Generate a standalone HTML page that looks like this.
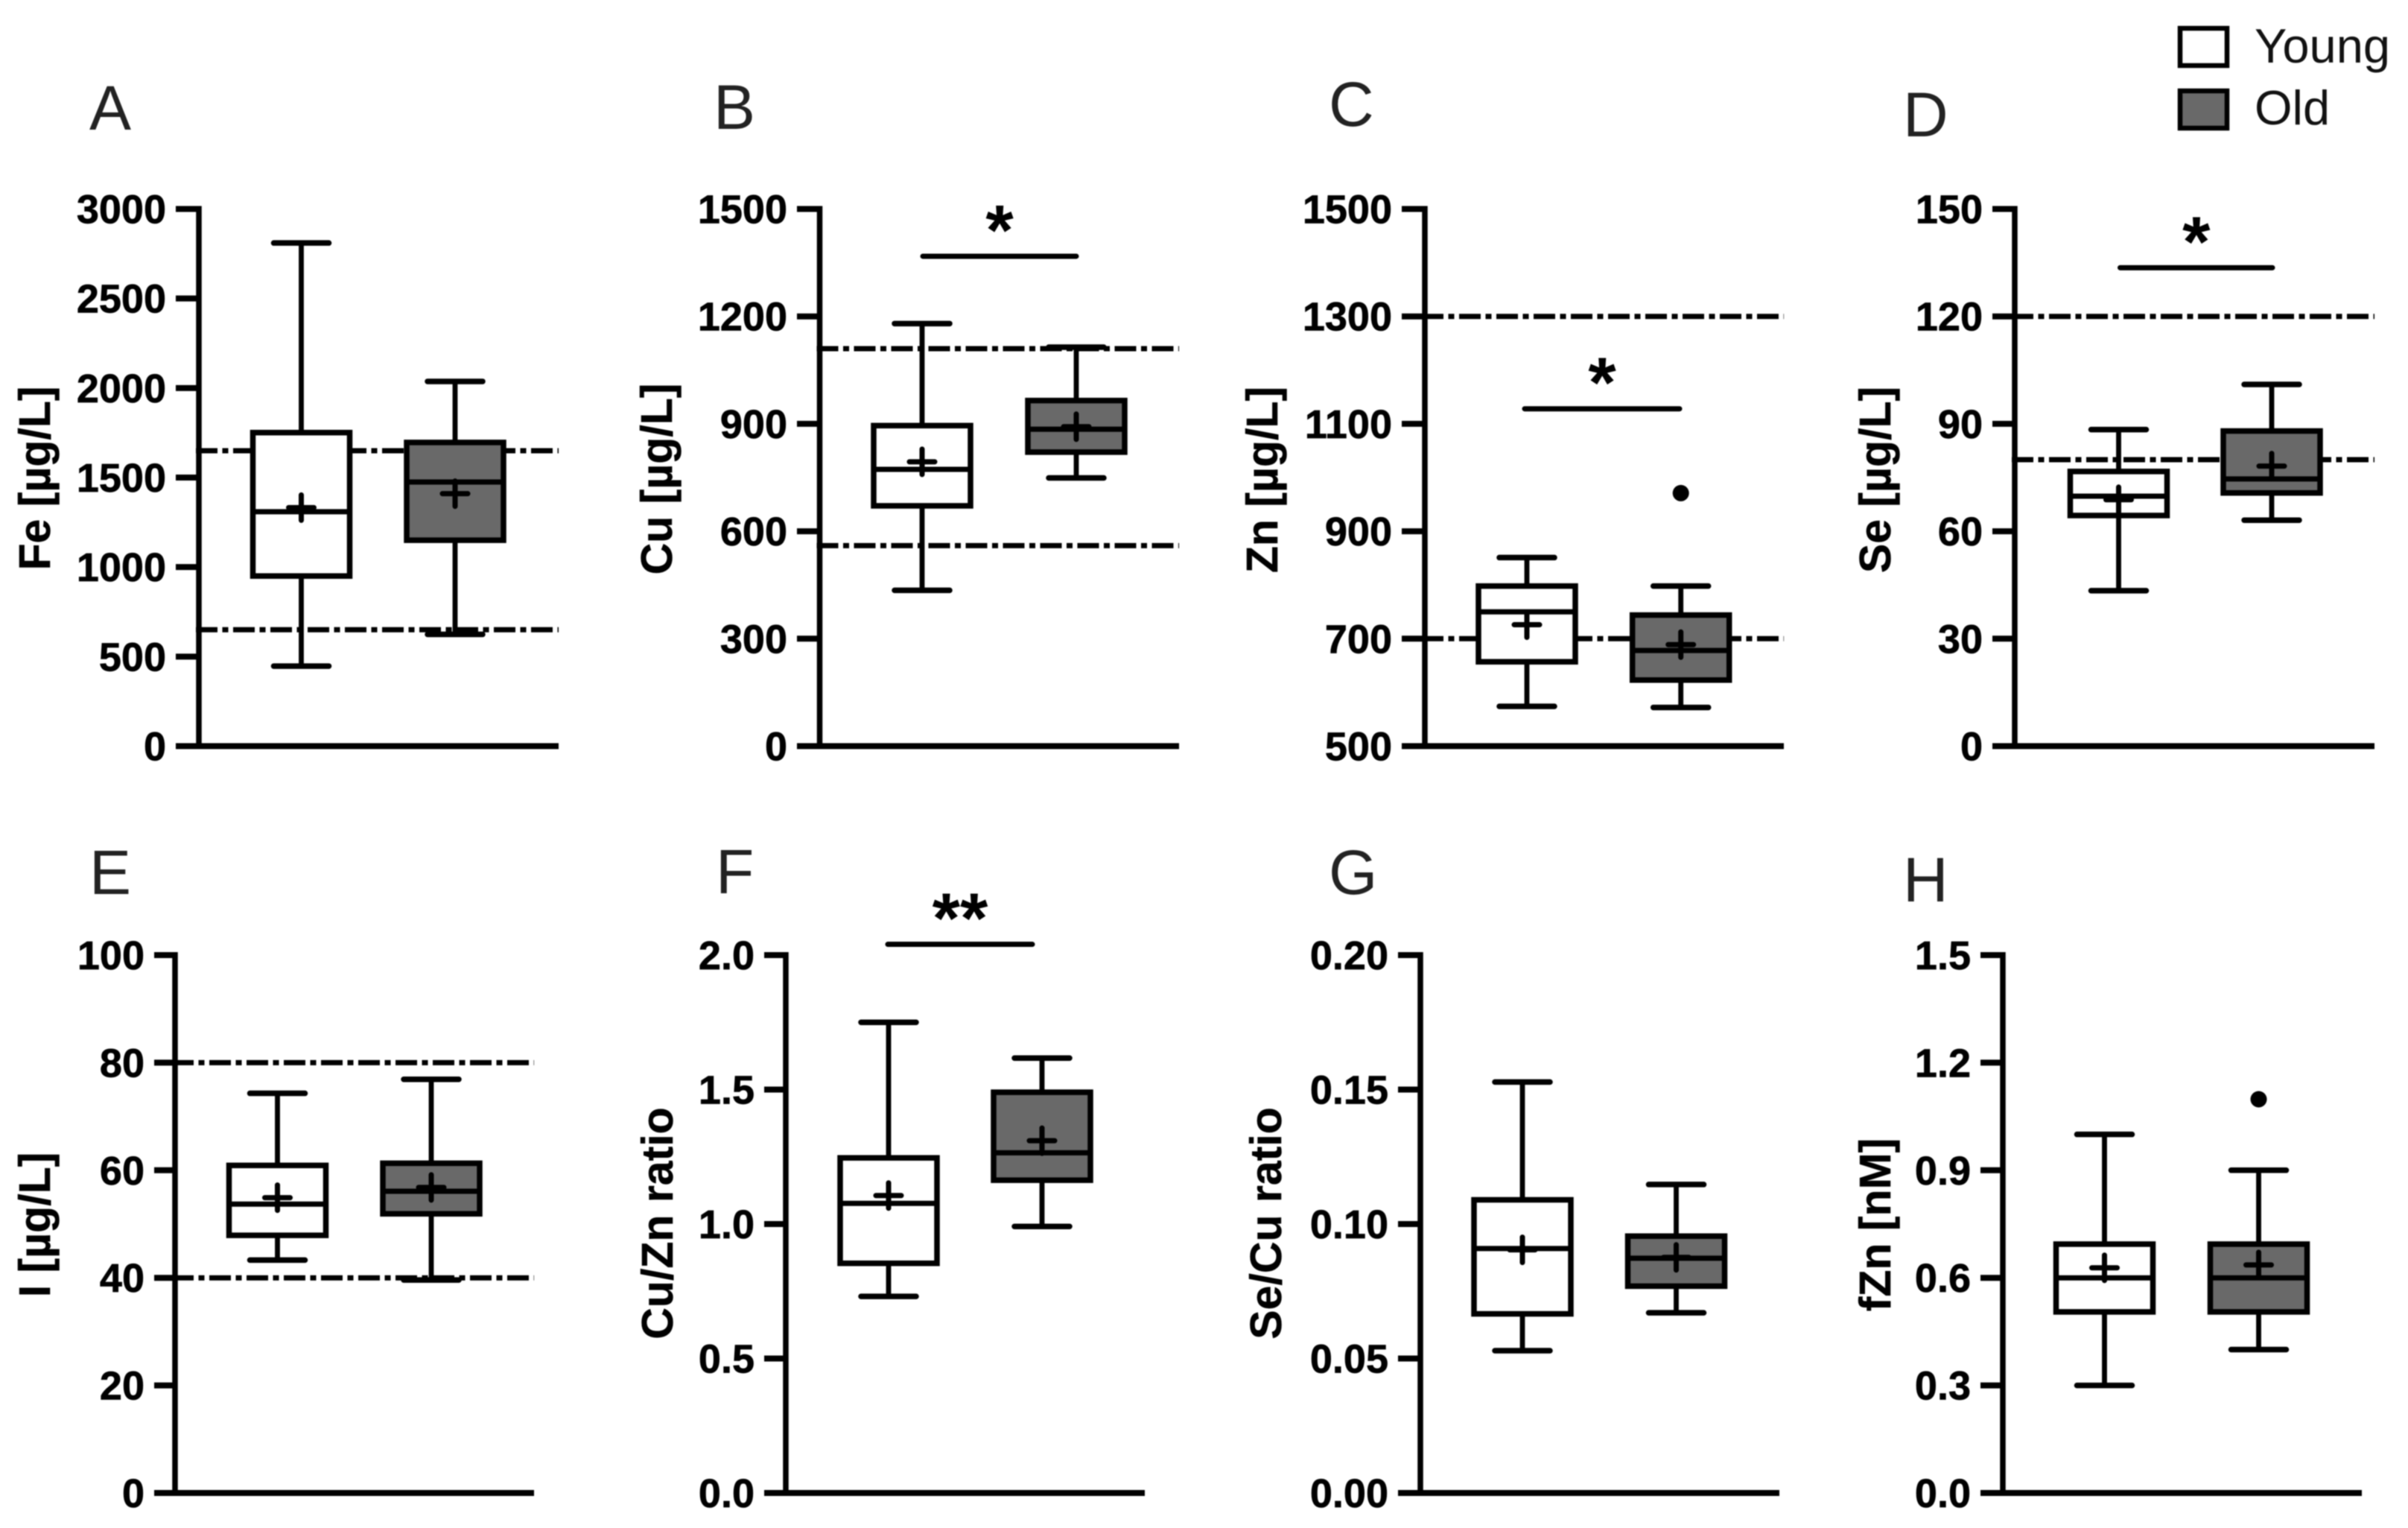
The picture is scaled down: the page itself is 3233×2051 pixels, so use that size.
<!DOCTYPE html>
<html lang="en">
<head>
<meta charset="utf-8">
<title>Trace elements in young and old groups</title>
<style>
html,body{margin:0;padding:0;background:#fff;}
body{width:3233px;height:2051px;overflow:hidden;}
svg{display:block;filter:blur(0.7px);}
text{font-family:"Liberation Sans",Arial,sans-serif;fill:#000;}
.letter{font-size:84px;fill:#222;}
.ytitle{font-size:59px;font-weight:700;text-anchor:middle;stroke:#000;stroke-width:0.5px;}
.legend-text{font-size:65px;fill:#111;}
</style>
</head>
<body>
<svg id="chart" xmlns="http://www.w3.org/2000/svg" width="3233" height="2051" viewBox="0 0 3233 2051">
  <rect x="0" y="0" width="3233" height="2051" fill="#fff"/>

  <text class="letter" x="120" y="174">A</text>
  <text class="letter" x="958" y="173">B</text>
  <text class="letter" x="1784" y="169">C</text>
  <text class="letter" x="2555" y="183">D</text>
  <text class="letter" x="120" y="1200">E</text>
  <text class="letter" x="961" y="1199">F</text>
  <text class="letter" x="1784" y="1200">G</text>
  <text class="letter" x="2555" y="1210">H</text>

  <text class="ytitle" transform="translate(67 642) rotate(-90)">Fe [µg/L]</text>
  <text class="ytitle" transform="translate(902 643) rotate(-90)">Cu [µg/L]</text>
  <text class="ytitle" transform="translate(1715 644) rotate(-90)">Zn [µg/L]</text>
  <text class="ytitle" transform="translate(2538 644) rotate(-90)">Se [µg/L]</text>
  <text class="ytitle" transform="translate(67 1644) rotate(-90)">I [µg/L]</text>
  <text class="ytitle" transform="translate(903 1642) rotate(-90)">Cu/Zn ratio</text>
  <text class="ytitle" transform="translate(1720 1642) rotate(-90)">Se/Cu ratio</text>
  <text class="ytitle" transform="translate(2538 1644) rotate(-90)">fZn [nM]</text>

  <g>
    <rect x="2927" y="38" width="63" height="50" fill="#fff" stroke="#000" stroke-width="6.5"/>
    <text class="legend-text" x="3027" y="84">Young</text>
    <rect x="2927" y="122" width="63" height="50" fill="#696969" stroke="#000" stroke-width="6.5"/>
    <text class="legend-text" x="3027" y="167">Old</text>
  </g>
</svg>

<script>
// Box statistics order: lower whisker, Q1, median, Q3, upper whisker.
// Panel A: Fe
const ticksA = ['0','500','1000','1500','2000','2500','3000'];
const youngA = [447, 950, 1309, 1751, 2810];
const oldA = [624, 1150, 1475, 1696, 2037];
const meansA = [1332, 1410];
const refsA = [650, 1650];
// Panel B: Cu
const ticksB = ['0','300','600','900','1200','1500'];
const youngB = [435, 671, 773, 895, 1180];
const oldB = [749, 821, 885, 965, 1114];
const meansB = [794, 892];
const refsB = [560, 1110];
const sigB = 1368;
// Panel C: Zn
const ticksC = ['500','700','900','1100','1300','1500'];
const youngC = [574, 657, 750, 798, 851];
const oldC = [572, 623, 678, 744, 798];
const meansC = [726, 689];
const refsC = [700, 1300];
const sigC = 1128;
const outliersOldC = [971];
// Panel D: Se
const ticksD = ['0','30','60','90','120','150'];
const youngD = [43.4, 64.4, 69.8, 76.7, 88.4];
const oldD = [63.1, 70.7, 74.6, 88, 101];
const meansD = [68.8, 78.2];
const refsD = [80, 120];
const sigD = 133.6;
// Panel E: I
const ticksE = ['0','20','40','60','80','100'];
const youngE = [43.3, 47.9, 53.7, 60.9, 74.3];
const oldE = [39.6, 51.9, 56.1, 61.3, 76.9];
const meansE = [54.9, 56.8];
const refsE = [40, 80];
// Panel F: Cu/Zn
const ticksF = ['0.0','0.5','1.0','1.5','2.0'];
const youngF = [0.731, 0.854, 1.077, 1.246, 1.75];
const oldF = [0.991, 1.163, 1.265, 1.49, 1.617];
const meansF = [1.106, 1.31];
const sigF = 2.04;
// Panel G: Se/Cu
const ticksG = ['0.00','0.05','0.10','0.15','0.20'];
const youngG = [0.0529, 0.0666, 0.0909, 0.109, 0.1528];
const oldG = [0.067, 0.0769, 0.0873, 0.0955, 0.1147];
const meansG = [0.0904, 0.0876];
// Panel H: fZn
const ticksH = ['0.0','0.3','0.6','0.9','1.2','1.5'];
const youngH = [0.3, 0.505, 0.6, 0.694, 1.0];
const oldH = [0.4, 0.505, 0.6, 0.694, 0.9];
const meansH = [0.628, 0.636];
const outliersOldH = [1.098];

const NS = 'http://www.w3.org/2000/svg';
const svg = document.getElementById('chart');

function make(parent, tag, attrs) {
  const el = document.createElementNS(NS, tag);
  for (const k in attrs) el.setAttribute(k, attrs[k]);
  parent.appendChild(el);
  return el;
}

function drawBox(g, prefix, x, stats, mean, fill, y) {
  const boxHalf = 65, capHalf = 37, plusHalf = 17;
  const lo = y(stats[0]), q1 = y(stats[1]), med = y(stats[2]), q3 = y(stats[3]), hi = y(stats[4]);
  const whiskerStyle = {stroke:'#000','stroke-width':6.8};
  const cap = {stroke:'#000','stroke-width':7.5,'stroke-linecap':'round'};

  const upper = make(g, 'line', Object.assign({x1:x,x2:x,y1:hi,y2:q3}, whiskerStyle));
  
  

  const lower = make(g, 'line', Object.assign({x1:x,x2:x,y1:q1,y2:lo}, whiskerStyle));
  
  

  const upperCap = make(g, 'line', Object.assign({x1:x-capHalf,x2:x+capHalf,y1:hi,y2:hi}, cap));
  
  

  const lowerCap = make(g, 'line', Object.assign({x1:x-capHalf,x2:x+capHalf,y1:lo,y2:lo}, cap));
  
  

  const box = make(g, 'rect', {x:x-boxHalf,y:q3,width:boxHalf*2,height:q1-q3,fill:fill,stroke:'#000','stroke-width':7.5});
  
  

  const median = make(g, 'line', {x1:x-boxHalf,x2:x+boxHalf,y1:med,y2:med,stroke:'#000','stroke-width':7});
  
  

  const my = y(mean);
  const plus = make(g, 'path', {d:'M'+(x-plusHalf)+' '+my+'H'+(x+plusHalf)+'M'+x+' '+(my-plusHalf)+'V'+(my+plusHalf),fill:'none',stroke:'#000','stroke-width':7,'stroke-linecap':'round'});
  
  
}

function drawPanel(id, frame, d) {
  const g = make(svg, 'g', {});
  
  

  const tickValues = d.ticks.map(Number);
  const yMin = tickValues[0], yMax = tickValues[tickValues.length - 1];
  const y = v => frame.bottom - (v - yMin) / (yMax - yMin) * (frame.bottom - frame.top);

  (d.refs || []).forEach(function (v, i) {
    const ref = make(g, 'line', {x1:frame.axis-4,x2:frame.right,y1:y(v),y2:y(v),stroke:'#000','stroke-width':7,'stroke-dasharray':'29 6.5 8 6.5'});
    
    
  });

  drawBox(g, 'young-' + id, frame.xYoung, d.young, d.means[0], '#fff', y);
  drawBox(g, 'old-' + id, frame.xOld, d.old, d.means[1], '#696969', y);

  (d.outliers || []).forEach(function (v, i) {
    const dot = make(g, 'ellipse', {cx:frame.xOld,cy:y(v),rx:11,ry:11,fill:'#000'});
    
    
  });

  const yAxis = make(g, 'line', {x1:frame.axis,x2:frame.axis,y1:frame.top-4,y2:frame.bottom,stroke:'#000','stroke-width':7.5});
  
  

  const xAxis = make(g, 'line', {x1:frame.axis,x2:frame.right,y1:frame.bottom,y2:frame.bottom,stroke:'#000','stroke-width':8});
  
  

  d.ticks.forEach(function (label, i) {
    const ty = y(tickValues[i]);
    const tick = make(g, 'line', {x1:frame.tick,x2:frame.axis,y1:ty,y2:ty,stroke:'#000','stroke-width':8});
    
    
    const text = make(g, 'text', {x:frame.tick-13,y:ty+19,'text-anchor':'end','font-size':54,'font-weight':700,stroke:'#000','stroke-width':0.7});
    
    
    text.textContent = label;
  });

  if (d.sig !== undefined) {
    const sy = y(d.sig);
    const bar = make(g, 'line', {x1:frame.sigLeft,x2:frame.sigRight,y1:sy,y2:sy,stroke:'#000','stroke-width':7,'stroke-linecap':'round'});
    
    
    const star = make(g, 'text', {x:(frame.sigLeft+frame.sigRight)/2,y:sy-2,'text-anchor':'middle','font-size':96,'font-weight':700});
    
    
    star.textContent = d.stars;
  }
}

drawPanel('a', {axis:267,tick:236,right:750,top:280.5,bottom:1001.5,xYoung:404.5,xOld:611},
  {ticks:ticksA,young:youngA,old:oldA,means:meansA,refs:refsA});
drawPanel('b', {axis:1100.5,tick:1070,right:1583,top:280.5,bottom:1001.5,xYoung:1238,xOld:1445,sigLeft:1239,sigRight:1445},
  {ticks:ticksB,young:youngB,old:oldB,means:meansB,refs:refsB,sig:sigB,stars:'*'});
drawPanel('c', {axis:1913,tick:1882,right:2395,top:280.5,bottom:1001.5,xYoung:2050,xOld:2256.7,sigLeft:2047,sigRight:2255},
  {ticks:ticksC,young:youngC,old:oldC,means:meansC,refs:refsC,sig:sigC,stars:'*',outliers:outliersOldC});
drawPanel('d', {axis:2705,tick:2675,right:3188,top:280.5,bottom:1001.5,xYoung:2844.5,xOld:3050,sigLeft:2846.5,sigRight:3051},
  {ticks:ticksD,young:youngD,old:oldD,means:meansD,refs:refsD,sig:sigD,stars:'*'});
drawPanel('e', {axis:235,tick:207,right:717,top:1282,bottom:2004,xYoung:372.5,xOld:579},
  {ticks:ticksE,young:youngE,old:oldE,means:meansE,refs:refsE});
drawPanel('f', {axis:1055,tick:1026,right:1537,top:1282,bottom:2004,xYoung:1193,xOld:1399,sigLeft:1192,sigRight:1386},
  {ticks:ticksF,young:youngF,old:oldF,means:meansF,sig:sigF,stars:'**'});
drawPanel('g', {axis:1907,tick:1877,right:2389,top:1282,bottom:2004,xYoung:2044,xOld:2250.5},
  {ticks:ticksG,young:youngG,old:oldG,means:meansG});
drawPanel('h', {axis:2689,tick:2659,right:3171,top:1282,bottom:2004,xYoung:2825.5,xOld:3032.5},
  {ticks:ticksH,young:youngH,old:oldH,means:meansH,outliers:outliersOldH});
</script>
</body>
</html>
